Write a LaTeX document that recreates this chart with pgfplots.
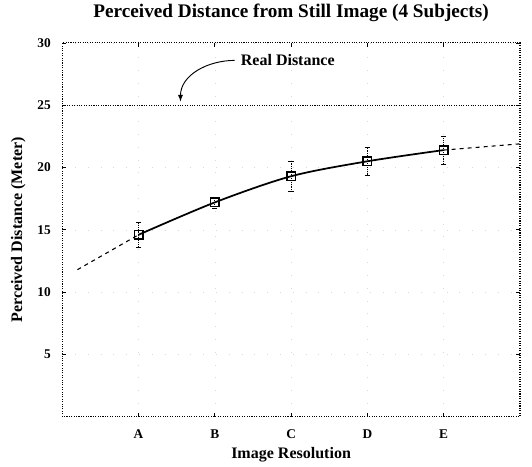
\documentclass[border=0pt]{standalone}
\usepackage{pgfplots}
\pgfplotsset{compat=1.18}
\usepackage{fontspec}
\setmainfont{Liberation Serif}
\begin{document}
\begin{tikzpicture}
\begin{axis}[
  scale only axis, width=343pt, height=280pt,
  xmin=0, xmax=6, ymin=0, ymax=30,
  xtick={1,2,3,4,5}, xticklabels={A,B,C,D,E},
  ytick={5,10,15,20,25,30},
  /pgf/number format/assume math mode=true,
  tick label style={font=\bfseries\normalsize},
  yticklabel style={xshift=-5pt},
  xticklabel style={yshift=-6pt},
  title={\bfseries Perceived Distance from Still Image (4 Subjects)},
  title style={font=\bfseries\Large, yshift=6pt},
  xlabel={\bfseries Image Resolution},
  ylabel={\bfseries Perceived Distance (Meter)},
  label style={font=\bfseries\large},
  ylabel style={yshift=2pt},
  axis line style={densely dotted, line width=0.8pt},
  tick style={black, line width=0.5pt},
  major tick length=3pt,
  grid=major, grid style={gray!30, dash pattern=on 0.6pt off 9pt},
]
% real distance
\addplot[densely dotted, line width=0.8pt] coordinates {(0,25)(6,25)};
% extrapolated ends
\addplot[dashed, line width=0.8pt] coordinates {(0.2,11.8)(1,14.6)};
\addplot[dashed, line width=0.8pt] coordinates {(5,21.4)(6,21.9)};
% mean perceived distance with error bars
\addplot[smooth, line width=1.3pt, mark=square, mark size=3.2pt,
  mark options={line width=1.1pt, solid},
  error bars/.cd, y dir=both, y explicit,
  error bar style={densely dotted, line width=0.7pt}, error mark options={rotate=90, mark size=2pt}]
  coordinates {
  (1,14.6) +- (0,1.0)
  (2,17.2) +- (0,0.45)
  (3,19.3) +- (0,1.2)
  (4,20.5) +- (0,1.1)
  (5,21.4) +- (0,1.1)
  };
\node[font=\bfseries\large, anchor=west] at (axis cs:2.28,28.6) {Real Distance};
\draw[-latex, line width=0.7pt] (axis cs:2.26,28.6) to[out=180,in=90] (axis cs:1.55,25.3);
\end{axis}
\path (current axis.east) ++(9pt,0);
\path (current axis.outer west) ++(-5pt,0);
\end{tikzpicture}
\end{document}
